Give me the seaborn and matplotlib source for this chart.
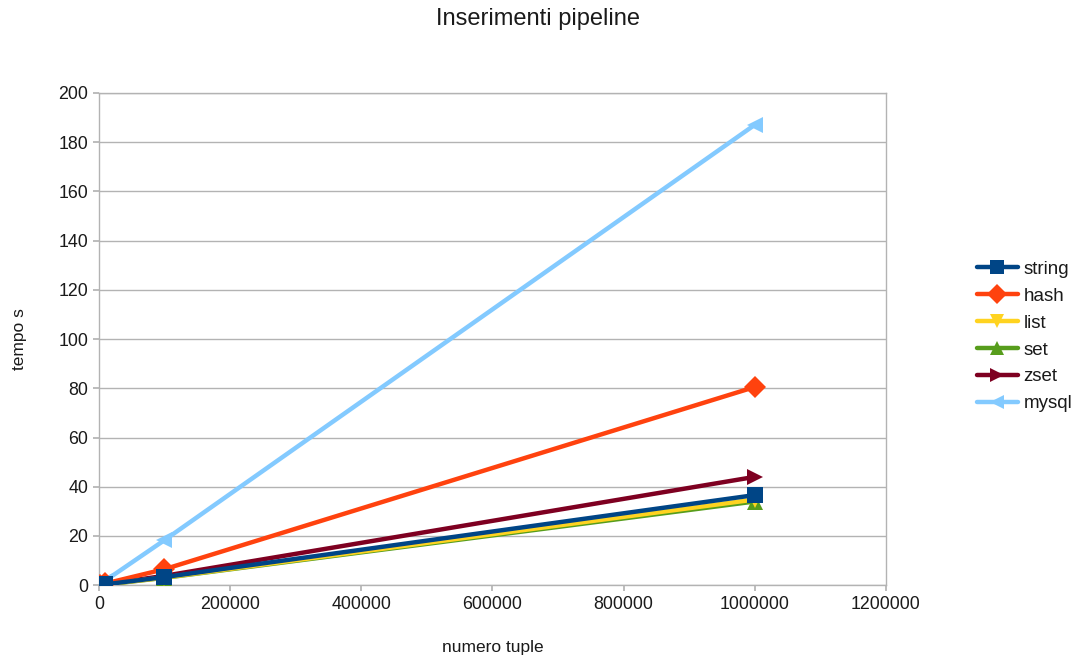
import matplotlib
matplotlib.use("Agg")
import matplotlib.pyplot as plt
import seaborn as sns
import pandas as pd

# Number of tuples inserted and time (s) per storage type
tuples = [1000, 10000, 100000, 1000000]
string_t = [0.04, 0.35, 3.3, 36.6]
hash_t = [0.08, 0.7, 6.5, 80.5]
list_t = [0.03, 0.3, 3.1, 34.8]
set_t = [0.03, 0.3, 3.0, 34.0]
zset_t = [0.05, 0.4, 3.8, 44.0]
mysql_t = [0.2, 1.9, 18.3, 187.0]

series = ["string", "hash", "list", "set", "zset", "mysql"]
values = [string_t, hash_t, list_t, set_t, zset_t, mysql_t]

colors = {"string": "#004586", "hash": "#ff420e", "list": "#ffd320",
          "set": "#579d1c", "zset": "#7e0021", "mysql": "#83caff"}
markers = {"string": "s", "hash": "D", "list": "v", "set": "^",
           "zset": ">", "mysql": "<"}

df = pd.DataFrame(
    [(s, x, y) for s, vals in zip(series, values) for x, y in zip(tuples, vals)],
    columns=["serie", "numero tuple", "tempo s"],
)

sns.set_theme(style="white")
plt.rcParams["font.family"] = ["Liberation Sans", "DejaVu Sans"]
plt.rcParams["text.color"] = "#1a1a1a"
plt.rcParams["axes.labelcolor"] = "#1a1a1a"
plt.rcParams["xtick.color"] = "#b3b3b3"
plt.rcParams["ytick.color"] = "#b3b3b3"
plt.rcParams["xtick.labelcolor"] = "#1a1a1a"
plt.rcParams["ytick.labelcolor"] = "#1a1a1a"

fig = plt.figure(figsize=(10.75, 6.59), dpi=100)
ax = fig.add_axes([0.092, 0.112, 0.732, 0.747])

sns.lineplot(data=df, x="numero tuple", y="tempo s", hue="serie", style="serie",
             hue_order=series, style_order=series, palette=colors,
             markers=markers, dashes=False, linewidth=3.2, markersize=11,
             markeredgewidth=0, ax=ax)

# first series drawn on top
for i, ln in enumerate(ax.lines):
    ln.set_zorder(10 - i)

ax.set_xlim(0, 1200000)
ax.set_ylim(0, 200)
ax.set_xticks(range(0, 1200001, 200000))
ax.set_xticklabels([str(v) for v in range(0, 1200001, 200000)])
ax.set_yticks(range(0, 201, 20))
ax.tick_params(axis="both", labelsize=12.8, length=4, direction="out",
               bottom=True, left=True)
ax.yaxis.grid(True, color="#b3b3b3", linewidth=1)
ax.xaxis.grid(False)
for sp in ax.spines.values():
    sp.set_color("#b3b3b3")
    sp.set_linewidth(1)

ax.set_xlabel("numero tuple", fontsize=12.5, labelpad=20)
ax.set_ylabel("tempo s", fontsize=12.5, labelpad=23)
fig.suptitle("Inserimenti pipeline", fontsize=17, y=0.988)

leg = ax.legend(loc="center left", bbox_to_anchor=(1.094, 0.505), frameon=False,
                fontsize=13.5, handlelength=2.2, labelspacing=0.52,
                handletextpad=0.3)
for h in leg.legend_handles:
    h.set_linewidth(3.2)
    h.set_markersize(10)

fig.savefig("out.png", dpi=100)
